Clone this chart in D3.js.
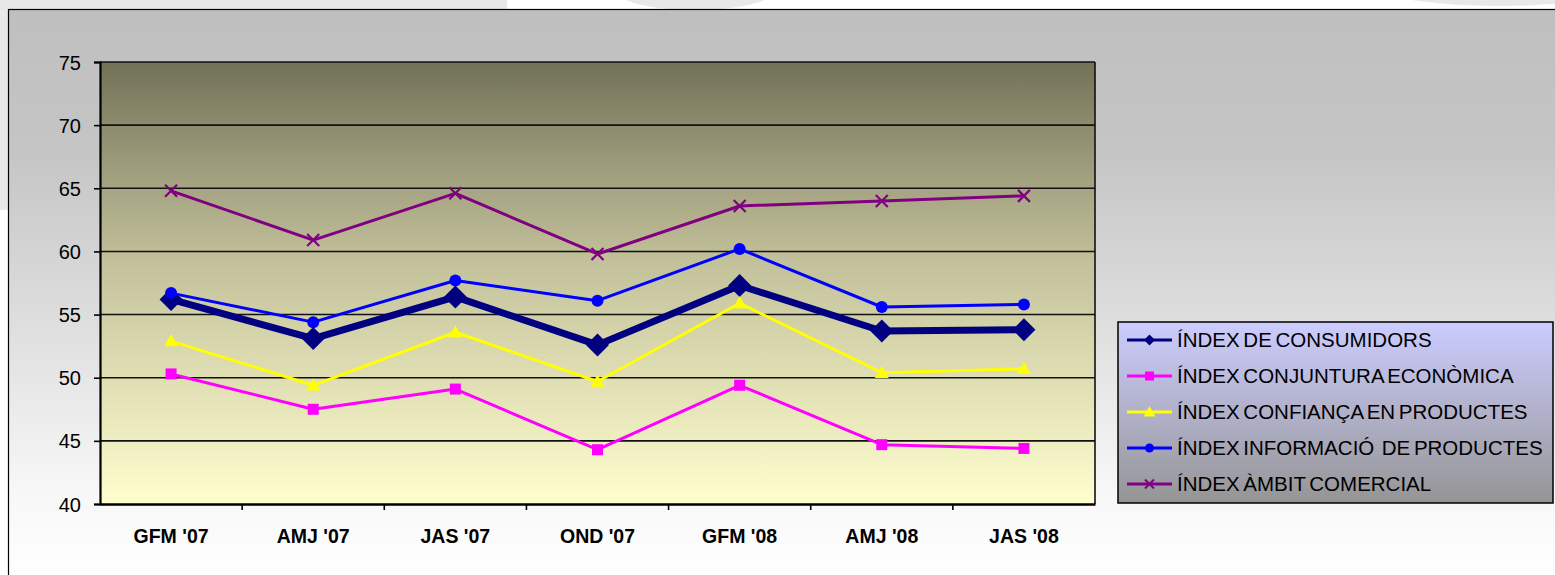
<!DOCTYPE html>
<html>
<head>
<meta charset="utf-8">
<script src="https://cdn.jsdelivr.net/npm/d3@7"></script>
<style>
	body { margin: 0; background: #ffffff; overflow: hidden; }
	svg { display: block; font-family: "Liberation Sans", Arial, sans-serif; }
</style>
</head>
<body>
<script>
//Данные
var categories = ["GFM '07", "AMJ '07", "JAS '07", "OND '07", "GFM '08", "AMJ '08", "JAS '08"];
var consumidors = [56.2, 53.1, 56.4, 52.6, 57.3, 53.7, 53.8];
var conjuntura  = [50.3, 47.5, 49.1, 44.3, 49.4, 44.7, 44.4];
var confianca   = [52.9, 49.4, 53.6, 49.7, 55.9, 50.4, 50.7];
var informacio  = [56.7, 54.4, 57.7, 56.1, 60.2, 55.6, 55.8];
var ambit       = [64.8, 60.9, 64.6, 59.8, 63.6, 64.0, 64.4];
var seriesNames = ["ÍNDEX DE CONSUMIDORS", "ÍNDEX CONJUNTURA ECONÒMICA", "ÍNDEX CONFIANÇA EN PRODUCTES",
                   "ÍNDEX INFORMACIÓ  DE PRODUCTES", "ÍNDEX ÀMBIT COMERCIAL"];
var yTicks = [40, 45, 50, 55, 60, 65, 70, 75];

var W = 1555, H = 575;
var plot = { left: 100, right: 1095, top: 62, bottom: 504 };

var series = [
	{ name: seriesNames[0], values: consumidors, color: "#000080", width: 7, marker: "diamond", size: 11.5 },
	{ name: seriesNames[1], values: conjuntura,  color: "#ff00ff", width: 3, marker: "square",  size: 5.5 },
	{ name: seriesNames[2], values: confianca,   color: "#ffff00", width: 3, marker: "triangle", size: 7 },
	{ name: seriesNames[3], values: informacio,  color: "#0000ff", width: 3, marker: "circle",  size: 6 },
	{ name: seriesNames[4], values: ambit,       color: "#800080", width: 3, marker: "cross",   size: 6 }
];

//Рисуем маркер нужного типа в точке (0,0)
function markerPath(type, s) {
	var p = d3.path();
	if (type == "diamond") {
		p.moveTo(0, -s); p.lineTo(s, 0); p.lineTo(0, s); p.lineTo(-s, 0); p.closePath();
	} else if (type == "square") {
		p.rect(-s, -s, 2 * s, 2 * s);
	} else if (type == "triangle") {
		p.moveTo(0, -s); p.lineTo(s, s * 0.75); p.lineTo(-s, s * 0.75); p.closePath();
	} else if (type == "circle") {
		p.arc(0, 0, s, 0, Math.PI * 2);
	} else {
		p.moveTo(-s, -s); p.lineTo(s, s); p.moveTo(s, -s); p.lineTo(-s, s);
	}
	return p.toString();
}

var svg = d3.select("body").append("svg").attr("width", W).attr("height", H);
var defs = svg.append("defs");

var g1 = defs.append("linearGradient").attr("id", "outerGrad").attr("x1", 0).attr("y1", 0).attr("x2", 0).attr("y2", 1);
g1.append("stop").attr("offset", "0%").attr("stop-color", "#bfbfbf");
g1.append("stop").attr("offset", "25%").attr("stop-color", "#c5c5c5");
g1.append("stop").attr("offset", "85%").attr("stop-color", "#f8f8f8");
g1.append("stop").attr("offset", "100%").attr("stop-color", "#ffffff");

var g2 = defs.append("linearGradient").attr("id", "plotGrad").attr("x1", 0).attr("y1", 0).attr("x2", 0).attr("y2", 1);
g2.append("stop").attr("offset", "0%").attr("stop-color", "#727258");
g2.append("stop").attr("offset", "45%").attr("stop-color", "#c3c19b");
g2.append("stop").attr("offset", "100%").attr("stop-color", "#fefece");

var g3 = defs.append("linearGradient").attr("id", "legendGrad").attr("x1", 0).attr("y1", 0).attr("x2", 0).attr("y2", 1);
g3.append("stop").attr("offset", "0%").attr("stop-color", "#ccccff");
g3.append("stop").attr("offset", "100%").attr("stop-color", "#959595");

//фон страницы под диаграммой
svg.append("rect").attr("x", 0).attr("y", 0).attr("width", 507).attr("height", 210).style("fill", "#e8e8e8");
svg.append("ellipse").attr("cx", 695).attr("cy", -10).attr("rx", 80).attr("ry", 20).style("fill", "#e8e8e8");
svg.append("ellipse").attr("cx", 1500).attr("cy", -30).attr("rx", 160).attr("ry", 36).style("fill", "#e8e8e8");

svg.append("rect").attr("x", 8.5).attr("y", 9.5).attr("width", W).attr("height", H)
	.style("fill", "url(#outerGrad)").style("stroke", "#000").style("stroke-width", 1.2);

var xScale = d3.scaleBand().domain(categories).range([plot.left, plot.right]);
var yScale = d3.scaleLinear().domain([40, 75]).range([plot.bottom, plot.top]);

svg.append("rect").attr("x", plot.left).attr("y", plot.top)
	.attr("width", plot.right - plot.left).attr("height", plot.bottom - plot.top)
	.style("fill", "url(#plotGrad)");

//сетка
svg.append("g").selectAll("line").data(yTicks.slice(1)).enter().append("line")
	.attr("x1", plot.left).attr("x2", plot.right)
	.attr("y1", function(d) { return yScale(d); })
	.attr("y2", function(d) { return yScale(d); })
	.style("stroke", "#111").style("stroke-width", 1.6);
svg.append("line").attr("x1", plot.right).attr("x2", plot.right).attr("y1", plot.top).attr("y2", plot.bottom)
	.style("stroke", "#111").style("stroke-width", 1.6);

var yAxis = svg.append("g").attr("transform", "translate(" + plot.left + ",0)")
	.call(d3.axisLeft(yScale).tickValues(yTicks).tickSize(6).tickPadding(13));
yAxis.select(".domain").style("stroke-width", 2.2);
yAxis.selectAll("line").style("stroke-width", 1.6);
yAxis.selectAll("text").style("font-size", "20px").style("fill", "#000").attr("dy", "0.35em");

var xAxis = svg.append("g").attr("transform", "translate(0," + plot.bottom + ")")
	.call(d3.axisBottom(xScale).tickSize(0).tickPadding(25));
xAxis.select(".domain").style("stroke-width", 2.4);
xAxis.selectAll("text").style("font-size", "19.5px").style("font-weight", "bold").style("fill", "#000");
//засечки между категориями
svg.append("g").selectAll("line").data(categories.slice(1)).enter().append("line")
	.attr("x1", function(d) { return xScale(d); })
	.attr("x2", function(d) { return xScale(d); })
	.attr("y1", plot.bottom).attr("y2", plot.bottom + 6)
	.style("stroke", "#000").style("stroke-width", 1.6);

var line = d3.line()
	.x(function(d, i) { return xScale(categories[i]) + xScale.bandwidth() / 2; })
	.y(function(d) { return yScale(d); });

series.forEach(function(s) {
	var g = svg.append("g");
	g.append("path").attr("d", line(s.values))
		.style("fill", "none").style("stroke", s.color).style("stroke-width", s.width)
		.style("stroke-linejoin", "round");
	g.selectAll("path.m").data(s.values).enter().append("path").attr("class", "m")
		.attr("transform", function(d, i) {
			return "translate(" + (xScale(categories[i]) + xScale.bandwidth() / 2) + "," + yScale(d) + ")";
		})
		.attr("d", markerPath(s.marker, s.size))
		.style("fill", s.marker == "cross" ? "none" : s.color)
		.style("stroke", s.color).style("stroke-width", s.marker == "cross" ? 2.2 : 0);
});

//легенда
var legend = svg.append("g").attr("transform", "translate(1118,322)");
legend.append("rect").attr("width", 435).attr("height", 181)
	.style("fill", "url(#legendGrad)").style("stroke", "#000").style("stroke-width", 1.5);
var rows = legend.selectAll("g").data(series).enter().append("g")
	.attr("transform", function(d, i) { return "translate(0," + (18 + i * 36) + ")"; });
rows.append("line").attr("x1", 9).attr("x2", 54).attr("y1", 0).attr("y2", 0)
	.style("stroke", function(d) { return d.color; }).style("stroke-width", 3);
rows.append("path").attr("transform", "translate(31.5,0)")
	.attr("d", function(d) { return markerPath(d.marker, d.marker == "diamond" ? 5.5 : (d.marker == "triangle" ? 6 : 4.5)); })
	.style("fill", function(d) { return d.marker == "cross" ? "none" : d.color; })
	.style("stroke", function(d) { return d.color; })
	.style("stroke-width", function(d) { return d.marker == "cross" ? 2 : 0; });
rows.append("text").attr("x", 59).attr("y", 0).attr("dy", "0.36em")
	.style("font-size", "20.5px").style("fill", "#000").style("word-spacing", "-2px")
	.style("white-space", "pre")
	.text(function(d) { return d.name; });
</script>
</body>
</html>
